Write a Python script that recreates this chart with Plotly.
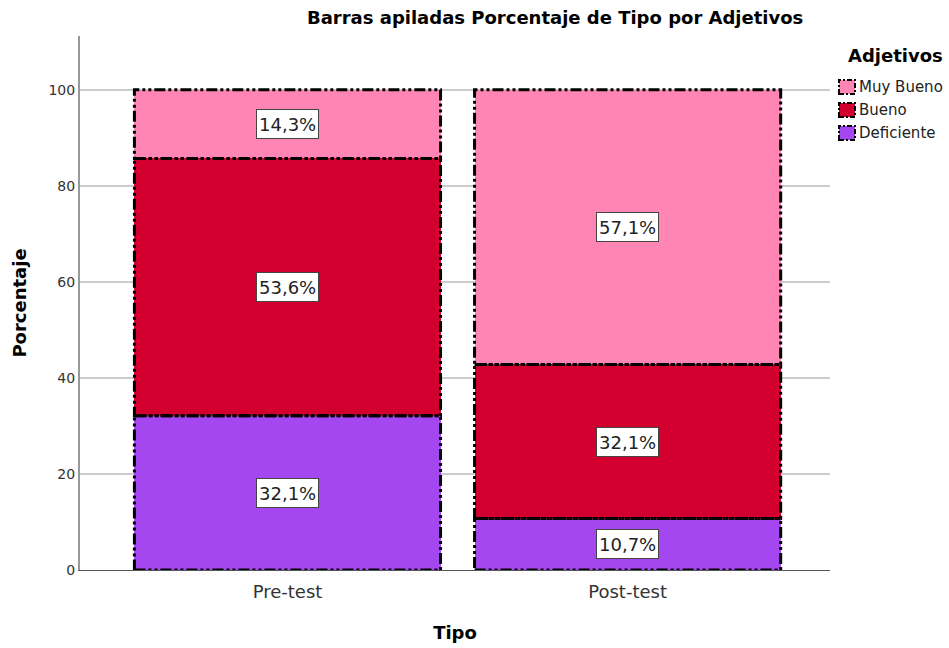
import plotly.graph_objects as go

categories = ["Pre-test", "Post-test"]
series_names = ["Deficiente", "Bueno", "Muy Bueno"]
deficiente = [32.1, 10.7]
bueno = [53.6, 32.1]
muy_bueno = [14.3, 57.1]
series_values = [deficiente, bueno, muy_bueno]
colors = ["#A547F0", "#D3002F", "#FF85B5"]
y_ticks = [0, 20, 40, 60, 80, 100]
legend_title = "Adjetivos"

FONT = "DejaVu Sans, Liberation Sans, Arial"
W, H = 949, 648
ML, MR, MT, MB = 80, 119, 36, 78
PW, PH = W - ML - MR, H - MT - MB

def px_x(p):
    return (p - ML) / PW

def px_y(p):
    return (H - MB - p) / PH

bar_width = 0.9
fig = go.Figure()
for name, vals, col in zip(series_names, series_values, colors):
    fig.add_trace(go.Bar(
        x=list(range(len(categories))), y=vals, name=name, width=bar_width,
        marker=dict(color=col, line=dict(width=0)), showlegend=False,
    ))

dash = "11px,3px,3px,3px,3px,3px"
annotations = []
for i in range(len(categories)):
    base = 0.0
    for s, vals in enumerate(series_values):
        v = vals[i]
        top = base + v if s < len(series_values) - 1 else 100
        fig.add_shape(type="rect", xref="x", yref="y",
                      x0=i - bar_width / 2, x1=i + bar_width / 2, y0=base, y1=top,
                      line=dict(color="black", width=3, dash=dash), layer="above")
        annotations.append(dict(
            x=i, y=(base + top) / 2, xref="x", yref="y",
            text=f"{v:.1f}%".replace(".", ","), showarrow=False,
            font=dict(family=FONT, size=18, color="#222"), height=24,
            bgcolor="white", bordercolor="#444", borderwidth=1, borderpad=2,
        ))
        base = top

# custom legend (top item = last series)
annotations.append(dict(
    x=px_x(846), y=px_y(56), xref="paper", yref="paper", xanchor="left", yanchor="middle",
    text=f"<b>{legend_title}</b>", showarrow=False,
    font=dict(family=FONT, size=18, color="black")))
for k, (name, col) in enumerate(zip(series_names[::-1], colors[::-1])):
    cy = 87 + k * 23
    fig.add_shape(type="rect", xref="paper", yref="paper",
                  x0=px_x(839), x1=px_x(855), y0=px_y(cy + 7), y1=px_y(cy - 7),
                  fillcolor=col, line=dict(color="black", width=2, dash="5px,2px,2px,2px"))
    annotations.append(dict(
        x=px_x(857), y=px_y(cy), xref="paper", yref="paper", xanchor="left", yanchor="middle",
        text=name, showarrow=False, font=dict(family=FONT, size=15, color="#222")))

fig.update_layout(
    barmode="stack",
    width=W, height=H,
    margin=dict(l=ML, r=MR, t=MT, b=MB, autoexpand=False),
    paper_bgcolor="white", plot_bgcolor="white",
    font=dict(family=FONT, color="#222"),
    showlegend=False,
    title=dict(text="<b>Barras apiladas Porcentaje de Tipo por Adjetivos</b>",
               x=0.585, xanchor="center", y=0.972, yanchor="middle",
               font=dict(family=FONT, size=18, color="black")),
    xaxis=dict(tickmode="array", tickvals=list(range(len(categories))), ticktext=categories,
               range=[-0.61, 1.595], showgrid=False, showline=True, linecolor="#555",
               linewidth=1, ticks="", tickfont=dict(family=FONT, size=18, color="#333"),
               ticklabelstandoff=5, automargin=False,
               title=dict(text="<b>Tipo</b>", font=dict(family=FONT, size=18, color="black"),
                          standoff=25)),
    yaxis=dict(range=[0, 111.2], tickvals=y_ticks, showgrid=True, gridcolor="#cccccc",
               gridwidth=1.5, showline=True, linecolor="#999", linewidth=2, ticks="",
               tickfont=dict(family=FONT, size=14, color="#333"), zeroline=False,
               ticklabelstandoff=0, automargin=False,
               title=dict(text="<b>Porcentaje</b>", font=dict(family=FONT, size=18, color="black"),
                          standoff=17)),
    annotations=annotations,
)
fig.write_html("out.html", config={"displayModeBar": False},
               post_script="document.body.style.margin='0';")
